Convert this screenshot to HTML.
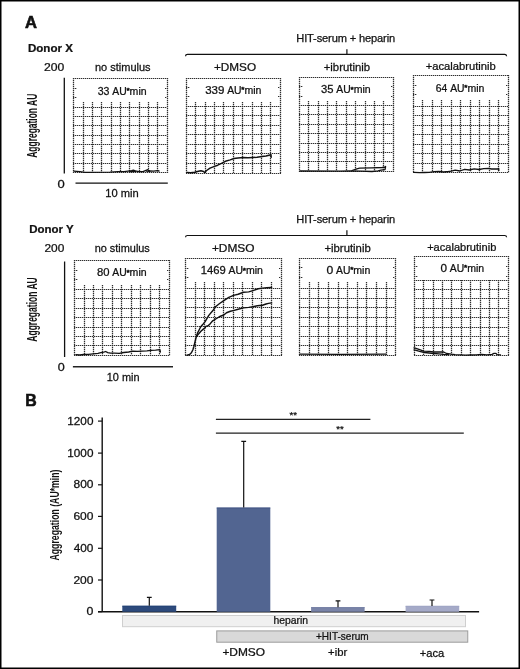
<!DOCTYPE html><html><head><meta charset="utf-8"><style>html,body{margin:0;padding:0;background:#fff;}svg{display:block;will-change:transform;}text{font-family:"Liberation Sans",sans-serif;fill:#111;stroke:#111;stroke-width:0.25px;}</style></head><body>
<svg width="520" height="669" viewBox="0 0 520 669">
<rect x="0" y="0" width="520" height="669" fill="#fff"/>
<text transform="translate(24.89 27.50) scale(0.998 1)" font-size="16.6" font-weight="bold" style="stroke-width:0.6px">A</text>
<text transform="translate(27.92 52.20) scale(1.035 1)" font-size="11.2" font-weight="bold">Donor X</text>
<text x="296.28" y="41.70" font-size="11.1" letter-spacing="-0.141">HIT-serum + heparin</text>
<path d="M185.5 56.25Q185.6 54.45 187.5 54.45H504.6Q506.5 54.45 506.6 56.25M346.9 54.45V49.150000000000006" fill="none" stroke="#111" stroke-width="1.2"/>
<text transform="translate(43.99 71.00) scale(1.146 1)" font-size="10.6">200</text>
<text transform="translate(57.38 187.60) scale(1.225 1)" font-size="10.6">0</text>
<line x1="64.3" y1="77.7" x2="64.3" y2="173.4" stroke="#111" stroke-width="1.3"/>
<text transform="translate(36.60 157.81) rotate(-90) scale(0.605 1)" font-size="14" font-weight="bold" style="stroke-width:0px">Aggregation AU</text>
<text transform="translate(94.96 70.50) scale(1.038 1)" font-size="10.6">no stimulus</text>
<text transform="translate(213.91 70.80) scale(1.110 1)" font-size="10.6">+DMSO</text>
<text transform="translate(323.73 70.60) scale(1.072 1)" font-size="10.6">+ibrutinib</text>
<text transform="translate(425.64 70.30) scale(1.059 1)" font-size="10.6">+acalabrutinib</text>
<text transform="translate(97.70 94.60) scale(1.018 1)" font-size="10.4">33</text>
<text transform="translate(112.27 94.60) scale(0.998 1)" font-size="10.4">AU</text>
<text transform="translate(126.46 93.05) scale(1.021 1)" font-size="8.0" style="stroke-width:0.5px">*</text>
<text transform="translate(129.59 94.60) scale(1.015 1)" font-size="10.4">min</text>
<text transform="translate(205.17 93.60) scale(1.110 1)" font-size="10.4">339</text>
<text transform="translate(227.17 93.60) scale(0.998 1)" font-size="10.4">AU</text>
<text transform="translate(241.36 92.05) scale(1.021 1)" font-size="8.0" style="stroke-width:0.5px">*</text>
<text transform="translate(244.49 93.60) scale(1.015 1)" font-size="10.4">min</text>
<text transform="translate(321.08 93.40) scale(1.080 1)" font-size="10.4">35</text>
<text transform="translate(336.37 93.40) scale(0.998 1)" font-size="10.4">AU</text>
<text transform="translate(350.56 91.85) scale(1.021 1)" font-size="8.0" style="stroke-width:0.5px">*</text>
<text transform="translate(353.69 93.40) scale(1.015 1)" font-size="10.4">min</text>
<text transform="translate(435.68 91.50) scale(0.996 1)" font-size="10.4">64</text>
<text transform="translate(450.17 91.50) scale(0.998 1)" font-size="10.4">AU</text>
<text transform="translate(464.36 89.95) scale(1.021 1)" font-size="8.0" style="stroke-width:0.5px">*</text>
<text transform="translate(467.49 91.50) scale(1.015 1)" font-size="10.4">min</text>
<path stroke="#bababa" stroke-width="1.2" fill="none" d="M73.0 78.5H168.0M73.0 172.5H168.0M73.5 78.0V173.0M167.5 78.0V173.0M83.5 102.0V172.0M92.5 102.0V172.0M101.5 102.0V172.0M111.5 102.0V172.0M120.5 102.0V172.0M129.5 102.0V172.0M139.5 102.0V172.0M148.5 102.0V172.0M157.5 102.0V172.0M73.0 88.5H77.0M165.0 88.5H167.0M73.0 97.5H77.0M165.0 97.5H167.0M73.0 107.5H167.0M73.0 116.5H167.0M73.0 125.5H167.0M73.0 135.5H167.0M73.0 144.5H167.0M73.0 153.5H167.0M73.0 163.5H167.0"/>
<g stroke="#2e2e2e" stroke-width="1.2" stroke-dasharray="1 1" fill="none">
<path d="M73.0 78.5H168.0M73.0 172.5H168.0M73.5 78.0V173.0M167.5 78.0V173.0M83.5 102.0V172.0M92.5 102.0V172.0M101.5 102.0V172.0M111.5 102.0V172.0M120.5 102.0V172.0M129.5 102.0V172.0M139.5 102.0V172.0M148.5 102.0V172.0M157.5 102.0V172.0M73.0 88.5H77.0M165.0 88.5H167.0M73.0 97.5H77.0M165.0 97.5H167.0M73.0 107.5H167.0M73.0 116.5H167.0M73.0 125.5H167.0M73.0 135.5H167.0M73.0 144.5H167.0M73.0 153.5H167.0M73.0 163.5H167.0"/>
</g>
<path stroke="#bababa" stroke-width="1.2" fill="none" d="M186.0 78.5H281.0M186.0 173.5H281.0M186.5 78.0V174.0M280.5 78.0V174.0M195.5 102.0V173.0M205.5 102.0V173.0M214.5 102.0V173.0M223.5 102.0V173.0M233.5 102.0V173.0M242.5 102.0V173.0M252.5 102.0V173.0M261.5 102.0V173.0M270.5 102.0V173.0M186.0 87.5H190.0M278.0 87.5H280.0M186.0 96.5H190.0M278.0 96.5H280.0M186.0 106.5H280.0M186.0 115.5H280.0M186.0 125.5H280.0M186.0 134.5H280.0M186.0 144.5H280.0M186.0 153.5H280.0M186.0 163.5H280.0"/>
<g stroke="#2e2e2e" stroke-width="1.2" stroke-dasharray="1 1" fill="none">
<path d="M186.0 78.5H281.0M186.0 173.5H281.0M186.5 78.0V174.0M280.5 78.0V174.0M195.5 102.0V173.0M205.5 102.0V173.0M214.5 102.0V173.0M223.5 102.0V173.0M233.5 102.0V173.0M242.5 102.0V173.0M252.5 102.0V173.0M261.5 102.0V173.0M270.5 102.0V173.0M186.0 87.5H190.0M278.0 87.5H280.0M186.0 96.5H190.0M278.0 96.5H280.0M186.0 106.5H280.0M186.0 115.5H280.0M186.0 125.5H280.0M186.0 134.5H280.0M186.0 144.5H280.0M186.0 153.5H280.0M186.0 163.5H280.0"/>
</g>
<path stroke="#bababa" stroke-width="1.2" fill="none" d="M299.0 77.5H394.0M299.0 171.5H394.0M299.5 77.0V172.0M393.5 77.0V172.0M308.5 101.0V171.0M318.5 101.0V171.0M327.5 101.0V171.0M336.5 101.0V171.0M346.5 101.0V171.0M355.5 101.0V171.0M365.5 101.0V171.0M374.5 101.0V171.0M383.5 101.0V171.0M299.0 86.5H303.0M391.0 86.5H393.0M299.0 96.5H303.0M391.0 96.5H393.0M299.0 105.5H393.0M299.0 114.5H393.0M299.0 124.5H393.0M299.0 133.5H393.0M299.0 143.5H393.0M299.0 152.5H393.0M299.0 161.5H393.0"/>
<g stroke="#2e2e2e" stroke-width="1.2" stroke-dasharray="1 1" fill="none">
<path d="M299.0 77.5H394.0M299.0 171.5H394.0M299.5 77.0V172.0M393.5 77.0V172.0M308.5 101.0V171.0M318.5 101.0V171.0M327.5 101.0V171.0M336.5 101.0V171.0M346.5 101.0V171.0M355.5 101.0V171.0M365.5 101.0V171.0M374.5 101.0V171.0M383.5 101.0V171.0M299.0 86.5H303.0M391.0 86.5H393.0M299.0 96.5H303.0M391.0 96.5H393.0M299.0 105.5H393.0M299.0 114.5H393.0M299.0 124.5H393.0M299.0 133.5H393.0M299.0 143.5H393.0M299.0 152.5H393.0M299.0 161.5H393.0"/>
</g>
<path stroke="#bababa" stroke-width="1.2" fill="none" d="M413.0 75.5H509.0M413.0 172.5H509.0M413.5 75.0V173.0M508.5 75.0V173.0M422.5 100.0V172.0M432.5 100.0V172.0M441.5 100.0V172.0M451.5 100.0V172.0M460.5 100.0V172.0M470.5 100.0V172.0M479.5 100.0V172.0M489.5 100.0V172.0M498.5 100.0V172.0M413.0 85.5H417.0M506.0 85.5H508.0M413.0 94.5H417.0M506.0 94.5H508.0M413.0 106.5H508.0M413.0 115.5H508.0M413.0 125.5H508.0M413.0 134.5H508.0M413.0 144.5H508.0M413.0 153.5H508.0M413.0 163.5H508.0"/>
<g stroke="#2e2e2e" stroke-width="1.2" stroke-dasharray="1 1" fill="none">
<path d="M413.0 75.5H509.0M413.0 172.5H509.0M413.5 75.0V173.0M508.5 75.0V173.0M422.5 100.0V172.0M432.5 100.0V172.0M441.5 100.0V172.0M451.5 100.0V172.0M460.5 100.0V172.0M470.5 100.0V172.0M479.5 100.0V172.0M489.5 100.0V172.0M498.5 100.0V172.0M413.0 85.5H417.0M506.0 85.5H508.0M413.0 94.5H417.0M506.0 94.5H508.0M413.0 106.5H508.0M413.0 115.5H508.0M413.0 125.5H508.0M413.0 134.5H508.0M413.0 144.5H508.0M413.0 153.5H508.0M413.0 163.5H508.0"/>
</g>
<polyline points="73.9,171.1 80,171.6 85,172.3 110,172.2 118,171.6 124,171.6 128,171.1 131.5,170.6 133.4,170.2 135.3,170.8 139,171.6 143,171.6 146,170.3 147.8,169.7 149.7,171 153.6,171.1 157.4,170.6 159,171" fill="none" stroke="#111" stroke-width="1.3" stroke-linejoin="round" stroke-linecap="round"/>
<polyline points="129.5,171.5 132,171.7 135.8,171.4" fill="none" stroke="#111" stroke-width="1.3" stroke-linejoin="round" stroke-linecap="round"/>
<polyline points="146.5,171.2 149.7,171.3" fill="none" stroke="#111" stroke-width="1.3" stroke-linejoin="round" stroke-linecap="round"/>
<polyline points="186.9,172.4 190.8,172.7 194.6,172.2 198.5,171.2 200.9,170.8 202.8,171.2 204.7,172.4 206.6,170.5 210,168.1 213.8,166.6 217.7,165.2 221.5,163.3 225.4,161.3 230.2,159.9 234,158.5 238,158 243,157.5 248,157.8 253,157.5 257,157.2 262,156.5 266,156 269,155.2 271,154.8 271.2,157.2" fill="none" stroke="#111" stroke-width="1.45" stroke-linejoin="round" stroke-linecap="round"/>
<polyline points="300,171 340,171.2 350,170.9 361,171.2 372,171.5 378,170.9 381,170.2 385,169.6 385.5,167" fill="none" stroke="#111" stroke-width="1.3" stroke-linejoin="round" stroke-linecap="round"/>
<polyline points="352,170.5 356,169.1 359.6,168.1 371.7,167.8 382.3,167.5 385.5,167 385.5,166.3" fill="none" stroke="#111" stroke-width="1.3" stroke-linejoin="round" stroke-linecap="round"/>
<polyline points="413.8,172.3 419.6,172.7 424.4,172.5 429.2,172.3 434,171.7 438.8,171.5 443.7,172 448.5,171.5 451.3,171.1 455.2,170.1 459.8,171 464.6,169.3 469.4,170 474.2,168.8 479,169.5 483.8,168.6 488.7,168.4 491.5,169 497.3,169 498.8,168.6 498.8,170.5" fill="none" stroke="#111" stroke-width="1.3" stroke-linejoin="round" stroke-linecap="round"/>
<text transform="translate(105.36 197.10) scale(1.052 1)" font-size="10.6">10 min</text>
<line x1="75.5" y1="183.2" x2="167.8" y2="183.2" stroke="#111" stroke-width="1.3"/>
<text transform="translate(29.22 233.00) scale(1.025 1)" font-size="11.2" font-weight="bold">Donor Y</text>
<text x="296.28" y="222.90" font-size="11.1" letter-spacing="-0.141">HIT-serum + heparin</text>
<path d="M185.5 237.3Q185.6 235.5 187.5 235.5H504.6Q506.5 235.5 506.6 237.3M346.9 235.5V230.2" fill="none" stroke="#111" stroke-width="1.2"/>
<text transform="translate(44.41 251.90) scale(1.123 1)" font-size="10.6">200</text>
<text transform="translate(57.70 371.10) scale(1.185 1)" font-size="10.6">0</text>
<line x1="64.6" y1="261.5" x2="64.6" y2="357" stroke="#111" stroke-width="1.3"/>
<text transform="translate(36.70 341.71) rotate(-90) scale(0.608 1)" font-size="14" font-weight="bold" style="stroke-width:0px">Aggregation AU</text>
<text transform="translate(94.66 251.80) scale(1.030 1)" font-size="10.6">no stimulus</text>
<text transform="translate(211.90 252.20) scale(1.123 1)" font-size="10.6">+DMSO</text>
<text transform="translate(324.43 251.50) scale(1.070 1)" font-size="10.6">+ibrutinib</text>
<text transform="translate(427.15 251.00) scale(1.043 1)" font-size="10.6">+acalabrutinib</text>
<text transform="translate(96.92 276.30) scale(1.083 1)" font-size="10.4">80</text>
<text transform="translate(112.27 276.30) scale(0.998 1)" font-size="10.4">AU</text>
<text transform="translate(126.46 274.75) scale(1.021 1)" font-size="8.0" style="stroke-width:0.5px">*</text>
<text transform="translate(129.59 276.30) scale(1.015 1)" font-size="10.4">min</text>
<text transform="translate(200.75 274.30) scale(1.084 1)" font-size="10.4">1469</text>
<text transform="translate(228.57 274.30) scale(0.998 1)" font-size="10.4">AU</text>
<text transform="translate(242.76 272.75) scale(1.021 1)" font-size="8.0" style="stroke-width:0.5px">*</text>
<text transform="translate(245.89 274.30) scale(1.015 1)" font-size="10.4">min</text>
<text transform="translate(326.41 273.50) scale(1.168 1)" font-size="10.4">0</text>
<text transform="translate(335.97 273.50) scale(0.998 1)" font-size="10.4">AU</text>
<text transform="translate(350.16 271.95) scale(1.021 1)" font-size="8.0" style="stroke-width:0.5px">*</text>
<text transform="translate(353.29 273.50) scale(1.015 1)" font-size="10.4">min</text>
<text transform="translate(440.53 271.60) scale(1.128 1)" font-size="10.4">0</text>
<text transform="translate(449.87 271.60) scale(0.998 1)" font-size="10.4">AU</text>
<text transform="translate(464.06 270.05) scale(1.021 1)" font-size="8.0" style="stroke-width:0.5px">*</text>
<text transform="translate(467.19 271.60) scale(1.015 1)" font-size="10.4">min</text>
<path stroke="#bababa" stroke-width="1.2" fill="none" d="M74.0 260.5H170.0M74.0 355.5H170.0M74.5 260.0V356.0M169.5 260.0V356.0M84.5 285.0V355.0M93.5 285.0V355.0M102.5 285.0V355.0M112.5 285.0V355.0M121.5 285.0V355.0M131.5 285.0V355.0M140.5 285.0V355.0M150.5 285.0V355.0M159.5 285.0V355.0M74.0 270.5H78.0M167.0 270.5H169.0M74.0 279.5H78.0M167.0 279.5H169.0M74.0 289.5H169.0M74.0 298.5H169.0M74.0 308.5H169.0M74.0 317.5H169.0M74.0 327.5H169.0M74.0 336.5H169.0M74.0 345.5H169.0"/>
<g stroke="#2e2e2e" stroke-width="1.2" stroke-dasharray="1 1" fill="none">
<path d="M74.0 260.5H170.0M74.0 355.5H170.0M74.5 260.0V356.0M169.5 260.0V356.0M84.5 285.0V355.0M93.5 285.0V355.0M102.5 285.0V355.0M112.5 285.0V355.0M121.5 285.0V355.0M131.5 285.0V355.0M140.5 285.0V355.0M150.5 285.0V355.0M159.5 285.0V355.0M74.0 270.5H78.0M167.0 270.5H169.0M74.0 279.5H78.0M167.0 279.5H169.0M74.0 289.5H169.0M74.0 298.5H169.0M74.0 308.5H169.0M74.0 317.5H169.0M74.0 327.5H169.0M74.0 336.5H169.0M74.0 345.5H169.0"/>
</g>
<path stroke="#bababa" stroke-width="1.2" fill="none" d="M185.0 258.5H282.0M185.0 355.5H282.0M185.5 258.0V356.0M281.5 258.0V356.0M195.5 282.0V355.0M204.5 282.0V355.0M214.5 282.0V355.0M223.5 282.0V355.0M233.5 282.0V355.0M242.5 282.0V355.0M252.5 282.0V355.0M261.5 282.0V355.0M271.5 282.0V355.0M185.0 268.5H189.0M279.0 268.5H281.0M185.0 277.5H189.0M279.0 277.5H281.0M185.0 288.5H281.0M185.0 298.5H281.0M185.0 307.5H281.0M185.0 317.5H281.0M185.0 326.5H281.0M185.0 336.5H281.0M185.0 345.5H281.0"/>
<g stroke="#2e2e2e" stroke-width="1.2" stroke-dasharray="1 1" fill="none">
<path d="M185.0 258.5H282.0M185.0 355.5H282.0M185.5 258.0V356.0M281.5 258.0V356.0M195.5 282.0V355.0M204.5 282.0V355.0M214.5 282.0V355.0M223.5 282.0V355.0M233.5 282.0V355.0M242.5 282.0V355.0M252.5 282.0V355.0M261.5 282.0V355.0M271.5 282.0V355.0M185.0 268.5H189.0M279.0 268.5H281.0M185.0 277.5H189.0M279.0 277.5H281.0M185.0 288.5H281.0M185.0 298.5H281.0M185.0 307.5H281.0M185.0 317.5H281.0M185.0 326.5H281.0M185.0 336.5H281.0M185.0 345.5H281.0"/>
</g>
<path stroke="#bababa" stroke-width="1.2" fill="none" d="M299.0 258.5H396.0M299.0 355.5H396.0M299.5 258.0V356.0M395.5 258.0V356.0M309.5 282.0V355.0M318.5 282.0V355.0M328.5 282.0V355.0M338.5 282.0V355.0M347.5 282.0V355.0M357.5 282.0V355.0M366.5 282.0V355.0M376.5 282.0V355.0M386.5 282.0V355.0M299.0 267.5H303.0M393.0 267.5H395.0M299.0 277.5H303.0M393.0 277.5H395.0M299.0 288.5H395.0M299.0 298.5H395.0M299.0 307.5H395.0M299.0 317.5H395.0M299.0 326.5H395.0M299.0 336.5H395.0M299.0 345.5H395.0"/>
<g stroke="#2e2e2e" stroke-width="1.2" stroke-dasharray="1 1" fill="none">
<path d="M299.0 258.5H396.0M299.0 355.5H396.0M299.5 258.0V356.0M395.5 258.0V356.0M309.5 282.0V355.0M318.5 282.0V355.0M328.5 282.0V355.0M338.5 282.0V355.0M347.5 282.0V355.0M357.5 282.0V355.0M366.5 282.0V355.0M376.5 282.0V355.0M386.5 282.0V355.0M299.0 267.5H303.0M393.0 267.5H395.0M299.0 277.5H303.0M393.0 277.5H395.0M299.0 288.5H395.0M299.0 298.5H395.0M299.0 307.5H395.0M299.0 317.5H395.0M299.0 326.5H395.0M299.0 336.5H395.0M299.0 345.5H395.0"/>
</g>
<path stroke="#bababa" stroke-width="1.2" fill="none" d="M414.0 256.5H509.0M414.0 355.5H509.0M414.5 256.0V356.0M508.5 256.0V356.0M423.5 280.0V355.0M433.5 280.0V355.0M442.5 280.0V355.0M451.5 280.0V355.0M461.5 280.0V355.0M470.5 280.0V355.0M480.5 280.0V355.0M489.5 280.0V355.0M498.5 280.0V355.0M414.0 266.5H418.0M506.0 266.5H508.0M414.0 276.5H418.0M506.0 276.5H508.0M414.0 289.5H508.0M414.0 298.5H508.0M414.0 308.5H508.0M414.0 317.5H508.0M414.0 327.5H508.0M414.0 336.5H508.0M414.0 345.5H508.0M414.0 280.5H508.0"/>
<g stroke="#2e2e2e" stroke-width="1.2" stroke-dasharray="1 1" fill="none">
<path d="M414.0 256.5H509.0M414.0 355.5H509.0M414.5 256.0V356.0M508.5 256.0V356.0M423.5 280.0V355.0M433.5 280.0V355.0M442.5 280.0V355.0M451.5 280.0V355.0M461.5 280.0V355.0M470.5 280.0V355.0M480.5 280.0V355.0M489.5 280.0V355.0M498.5 280.0V355.0M414.0 266.5H418.0M506.0 266.5H508.0M414.0 276.5H418.0M506.0 276.5H508.0M414.0 289.5H508.0M414.0 298.5H508.0M414.0 308.5H508.0M414.0 317.5H508.0M414.0 327.5H508.0M414.0 336.5H508.0M414.0 345.5H508.0M414.0 280.5H508.0"/>
</g>
<polyline points="75.9,354.7 79.8,355 83.6,354.5 88.4,354.3 93.2,353.9 98,353.4 100.9,352.6 103.8,352.1 105.7,351.5 107.7,352.6 110.5,353.1 114.4,353.1 119.2,353.4 123.8,352.5 128.7,352 132.5,351.1 137.3,351.3 142.1,351.1 146.9,350.8 150.8,350.4 155.6,350.1 159.9,349.6 160.4,352" fill="none" stroke="#111" stroke-width="1.3" stroke-linejoin="round" stroke-linecap="round"/>
<polyline points="187,355.2 189.6,354.5 191.4,352.7 192.9,349.7 193.8,346.7 194.7,343.1 195.6,339.5 196.2,337.1 197.6,332.9 199.1,330 200.6,327 202.7,324.6 205.1,321.6 208.8,315.4 212.7,310.8 215.8,306.5 219.6,303.5 224.2,300.4 228.8,297.3 233.5,295.4 238.1,294.2 243.5,292.3 248.7,291.9 253,290.6 258.2,288.8 262.5,288.1 266.8,287.8 271.6,287.5" fill="none" stroke="#111" stroke-width="1.45" stroke-linejoin="round" stroke-linecap="round"/>
<polyline points="196.3,336.5 198.5,334.1 200.9,331.2 203.3,329.1 205.1,327.9 205.7,326.4 208.1,325.8 210.5,323.4 212.7,320.8 216.5,318.5 220.4,316.2 223.8,315 226.5,312.7 230.4,311.2 234.2,310.4 238.1,309.2 243.5,307.9 248.7,307.4 253,306.8 257.3,305.7 262.5,305.3 266,304 268.5,303.4 271.6,302.9" fill="none" stroke="#111" stroke-width="1.45" stroke-linejoin="round" stroke-linecap="round"/>
<polyline points="300,354.2 340,354.4 386,354.2" fill="none" stroke="#111" stroke-width="1.3" stroke-linejoin="round" stroke-linecap="round"/>
<polyline points="414,347.8 415.3,348.2 419.6,349.6 423.5,351.1 429.2,351.3 434,352 443.7,352 446.5,353.5 451.3,354.2 455,354.6 460.3,354.8 465.6,355.2 470.9,355 476.2,354.8 481.5,354.3 486.7,354.8 492,354.3 494,353.3 496,353.3 497,354.6 500.5,354.8" fill="none" stroke="#111" stroke-width="1.3" stroke-linejoin="round" stroke-linecap="round"/>
<polyline points="414,349.8 415.3,350.1 419.6,351.3 424.4,352.5 429.2,353 434,353.5 438.8,353.9 443.7,354.4 448.5,354.6" fill="none" stroke="#111" stroke-width="1.3" stroke-linejoin="round" stroke-linecap="round"/>
<text transform="translate(106.78 380.90) scale(1.032 1)" font-size="10.6">10 min</text>
<line x1="72.9" y1="366.8" x2="173" y2="366.8" stroke="#222" stroke-width="1.5"/>
<text transform="translate(25.23 406.00) scale(0.958 1)" font-size="16.6" font-weight="bold" style="stroke-width:0.6px">B</text>
<text transform="translate(59.00 560.52) rotate(-90) scale(0.692 1)" font-size="12.6" font-weight="bold" style="stroke-width:0px">Aggregation (AU*min)</text>
<path d="M102.2 417.4V611.8M98 611.8H479.1" fill="none" stroke="#111" stroke-width="1.4"/>
<line x1="98" y1="421.1" x2="102.2" y2="421.1" stroke="#111" stroke-width="1.2"/>
<text transform="translate(67.32 424.60) scale(1.130 1)" font-size="10.4">1200</text>
<line x1="98" y1="453.1" x2="102.2" y2="453.1" stroke="#111" stroke-width="1.2"/>
<text transform="translate(67.32 456.60) scale(1.130 1)" font-size="10.4">1000</text>
<line x1="98" y1="484.8" x2="102.2" y2="484.8" stroke="#111" stroke-width="1.2"/>
<text transform="translate(73.49 488.30) scale(1.151 1)" font-size="10.4">800</text>
<line x1="98" y1="516.4" x2="102.2" y2="516.4" stroke="#111" stroke-width="1.2"/>
<text transform="translate(73.40 519.90) scale(1.156 1)" font-size="10.4">600</text>
<line x1="98" y1="548.3" x2="102.2" y2="548.3" stroke="#111" stroke-width="1.2"/>
<text transform="translate(73.73 551.80) scale(1.136 1)" font-size="10.4">400</text>
<line x1="98" y1="580" x2="102.2" y2="580" stroke="#111" stroke-width="1.2"/>
<text transform="translate(73.40 583.50) scale(1.156 1)" font-size="10.4">200</text>
<line x1="98" y1="611.7" x2="102.2" y2="611.7" stroke="#111" stroke-width="1.2"/>
<text transform="translate(86.61 615.20) scale(1.188 1)" font-size="10.4">0</text>
<rect x="122.3" y="605.8" width="53.9" height="6.0" fill="#2d4a7c"/>
<line x1="122.3" y1="606.1999999999999" x2="176.2" y2="606.1999999999999" stroke="#214073" stroke-width="0.8"/>
<rect x="216.7" y="507.6" width="53.6" height="104.2" fill="#526591"/>
<line x1="216.7" y1="508.0" x2="270.3" y2="508.0" stroke="#3d5080" stroke-width="0.8"/>
<rect x="311.1" y="607.2" width="53.5" height="4.6" fill="#7a84a8"/>
<line x1="311.1" y1="607.6" x2="364.6" y2="607.6" stroke="#6e7aa0" stroke-width="0.8"/>
<rect x="405.6" y="605.9" width="53.6" height="5.9" fill="#a5aac8"/>
<line x1="405.6" y1="606.3" x2="459.2" y2="606.3" stroke="#9ea3c3" stroke-width="0.8"/>
<path d="M149.3 605.8V596.8M146.9 597.3H151.70000000000002" fill="none" stroke="#111" stroke-width="1.2"/>
<path d="M243.7 507.6V440.8M241.29999999999998 441.3H246.1" fill="none" stroke="#111" stroke-width="1.2"/>
<path d="M338 607.2V600.3M335.6 600.8H340.4" fill="none" stroke="#111" stroke-width="1.2"/>
<path d="M432 605.9V599.5M429.6 600.0H434.4" fill="none" stroke="#111" stroke-width="1.2"/>
<path d="M215.9 419.3H370.4M215.9 433.2H463.8" fill="none" stroke="#222" stroke-width="1.3"/>
<text transform="translate(289.43 417.90) scale(1.031 1)" font-size="9.5">**</text>
<text transform="translate(336.13 431.70) scale(1.017 1)" font-size="9.5">**</text>
<rect x="122.5" y="615.5" width="343" height="11.2" fill="#f0f0f0" stroke="#cfcfcf" stroke-width="1"/>
<text transform="translate(273.52 623.75) scale(1.009 1)" font-size="10.3">heparin</text>
<rect x="216.75" y="630.9" width="251" height="11.3" fill="#d9d9d9" stroke="#9c9c9c" stroke-width="1"/>
<text transform="translate(316.00 639.80) scale(0.976 1)" font-size="10.3">+HIT-serum</text>
<text transform="translate(222.40 656.20) scale(1.123 1)" font-size="10.6">+DMSO</text>
<text transform="translate(328.04 656.30) scale(1.065 1)" font-size="10.6">+ibr</text>
<text transform="translate(419.64 656.50) scale(1.056 1)" font-size="10.6">+aca</text>
<rect x="0.75" y="0.75" width="518.5" height="667.5" fill="none" stroke="#000" stroke-width="1.5"/>
</svg></body></html>
